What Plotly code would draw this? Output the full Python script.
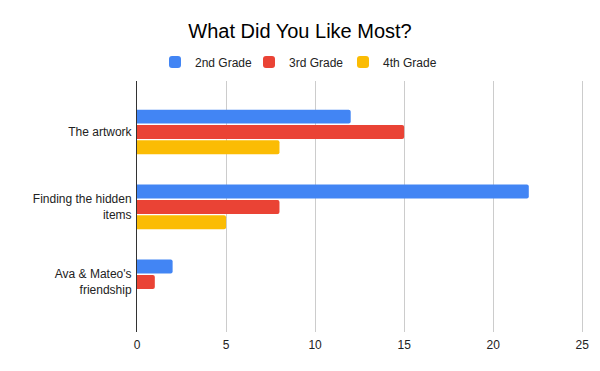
import plotly.graph_objects as go

categories = ["The artwork", "Finding the hidden<br>items", "Ava & Mateo's<br>friendship"]
series_names = ["2nd Grade", "3rd Grade", "4th Grade"]
grade2 = [12, 22, 2]
grade3 = [15, 8, 1]
grade4 = [8, 5, 0]
colors = ["#4285F4", "#EA4335", "#FBBC04"]
x_ticks = [0, 5, 10, 15, 20, 25]

# the page body has an 8px default margin, so the figure is 8px smaller
W, H = 592, 363

fig = go.Figure()
for name, vals, c in zip(series_names, [grade2, grade3, grade4], colors):
    fig.add_trace(go.Bar(y=categories, x=vals, name=name, orientation="h",
                         marker=dict(color=c, line=dict(width=0))))

fig.update_layout(
    width=W, height=H,
    margin=dict(l=129, r=16, t=73, b=39, autoexpand=False),
    paper_bgcolor="white", plot_bgcolor="white",
    font=dict(family="Liberation Sans, Arial, sans-serif", size=12, color="#222222"),
    title=dict(text="What Did You Like Most?", x=292 / W, xanchor="center",
               xref="container", yref="container", y=1 - 23 / H, yanchor="middle",
               font=dict(size=20, color="#000000")),
    legend=dict(orientation="h", x=288 / W, xanchor="center", xref="container",
                yref="container", y=1 - 54 / H, yanchor="middle",
                font=dict(size=12, color="#222222"), itemwidth=30, entrywidth=49,
                entrywidthmode="pixels", traceorder="normal"),
    barmode="group", bargap=0.385, bargroupgap=0.09, barcornerradius=2,
    xaxis=dict(range=[0, 25.1], tickvals=x_ticks, showgrid=True, gridcolor="#cccccc", gridwidth=1,
               zeroline=False, showline=False, ticks="", automargin=False, ticklabelstandoff=4,
               tickfont=dict(size=12, color="#222222")),
    yaxis=dict(type="category", range=[2.667, -0.68], showline=True, linecolor="#333333",
               linewidth=1, showgrid=False, ticks="", ticklabelstandoff=2, automargin=False,
               tickfont=dict(size=12, color="#222222")),
    showlegend=True,
)
fig.write_html("out.html")
